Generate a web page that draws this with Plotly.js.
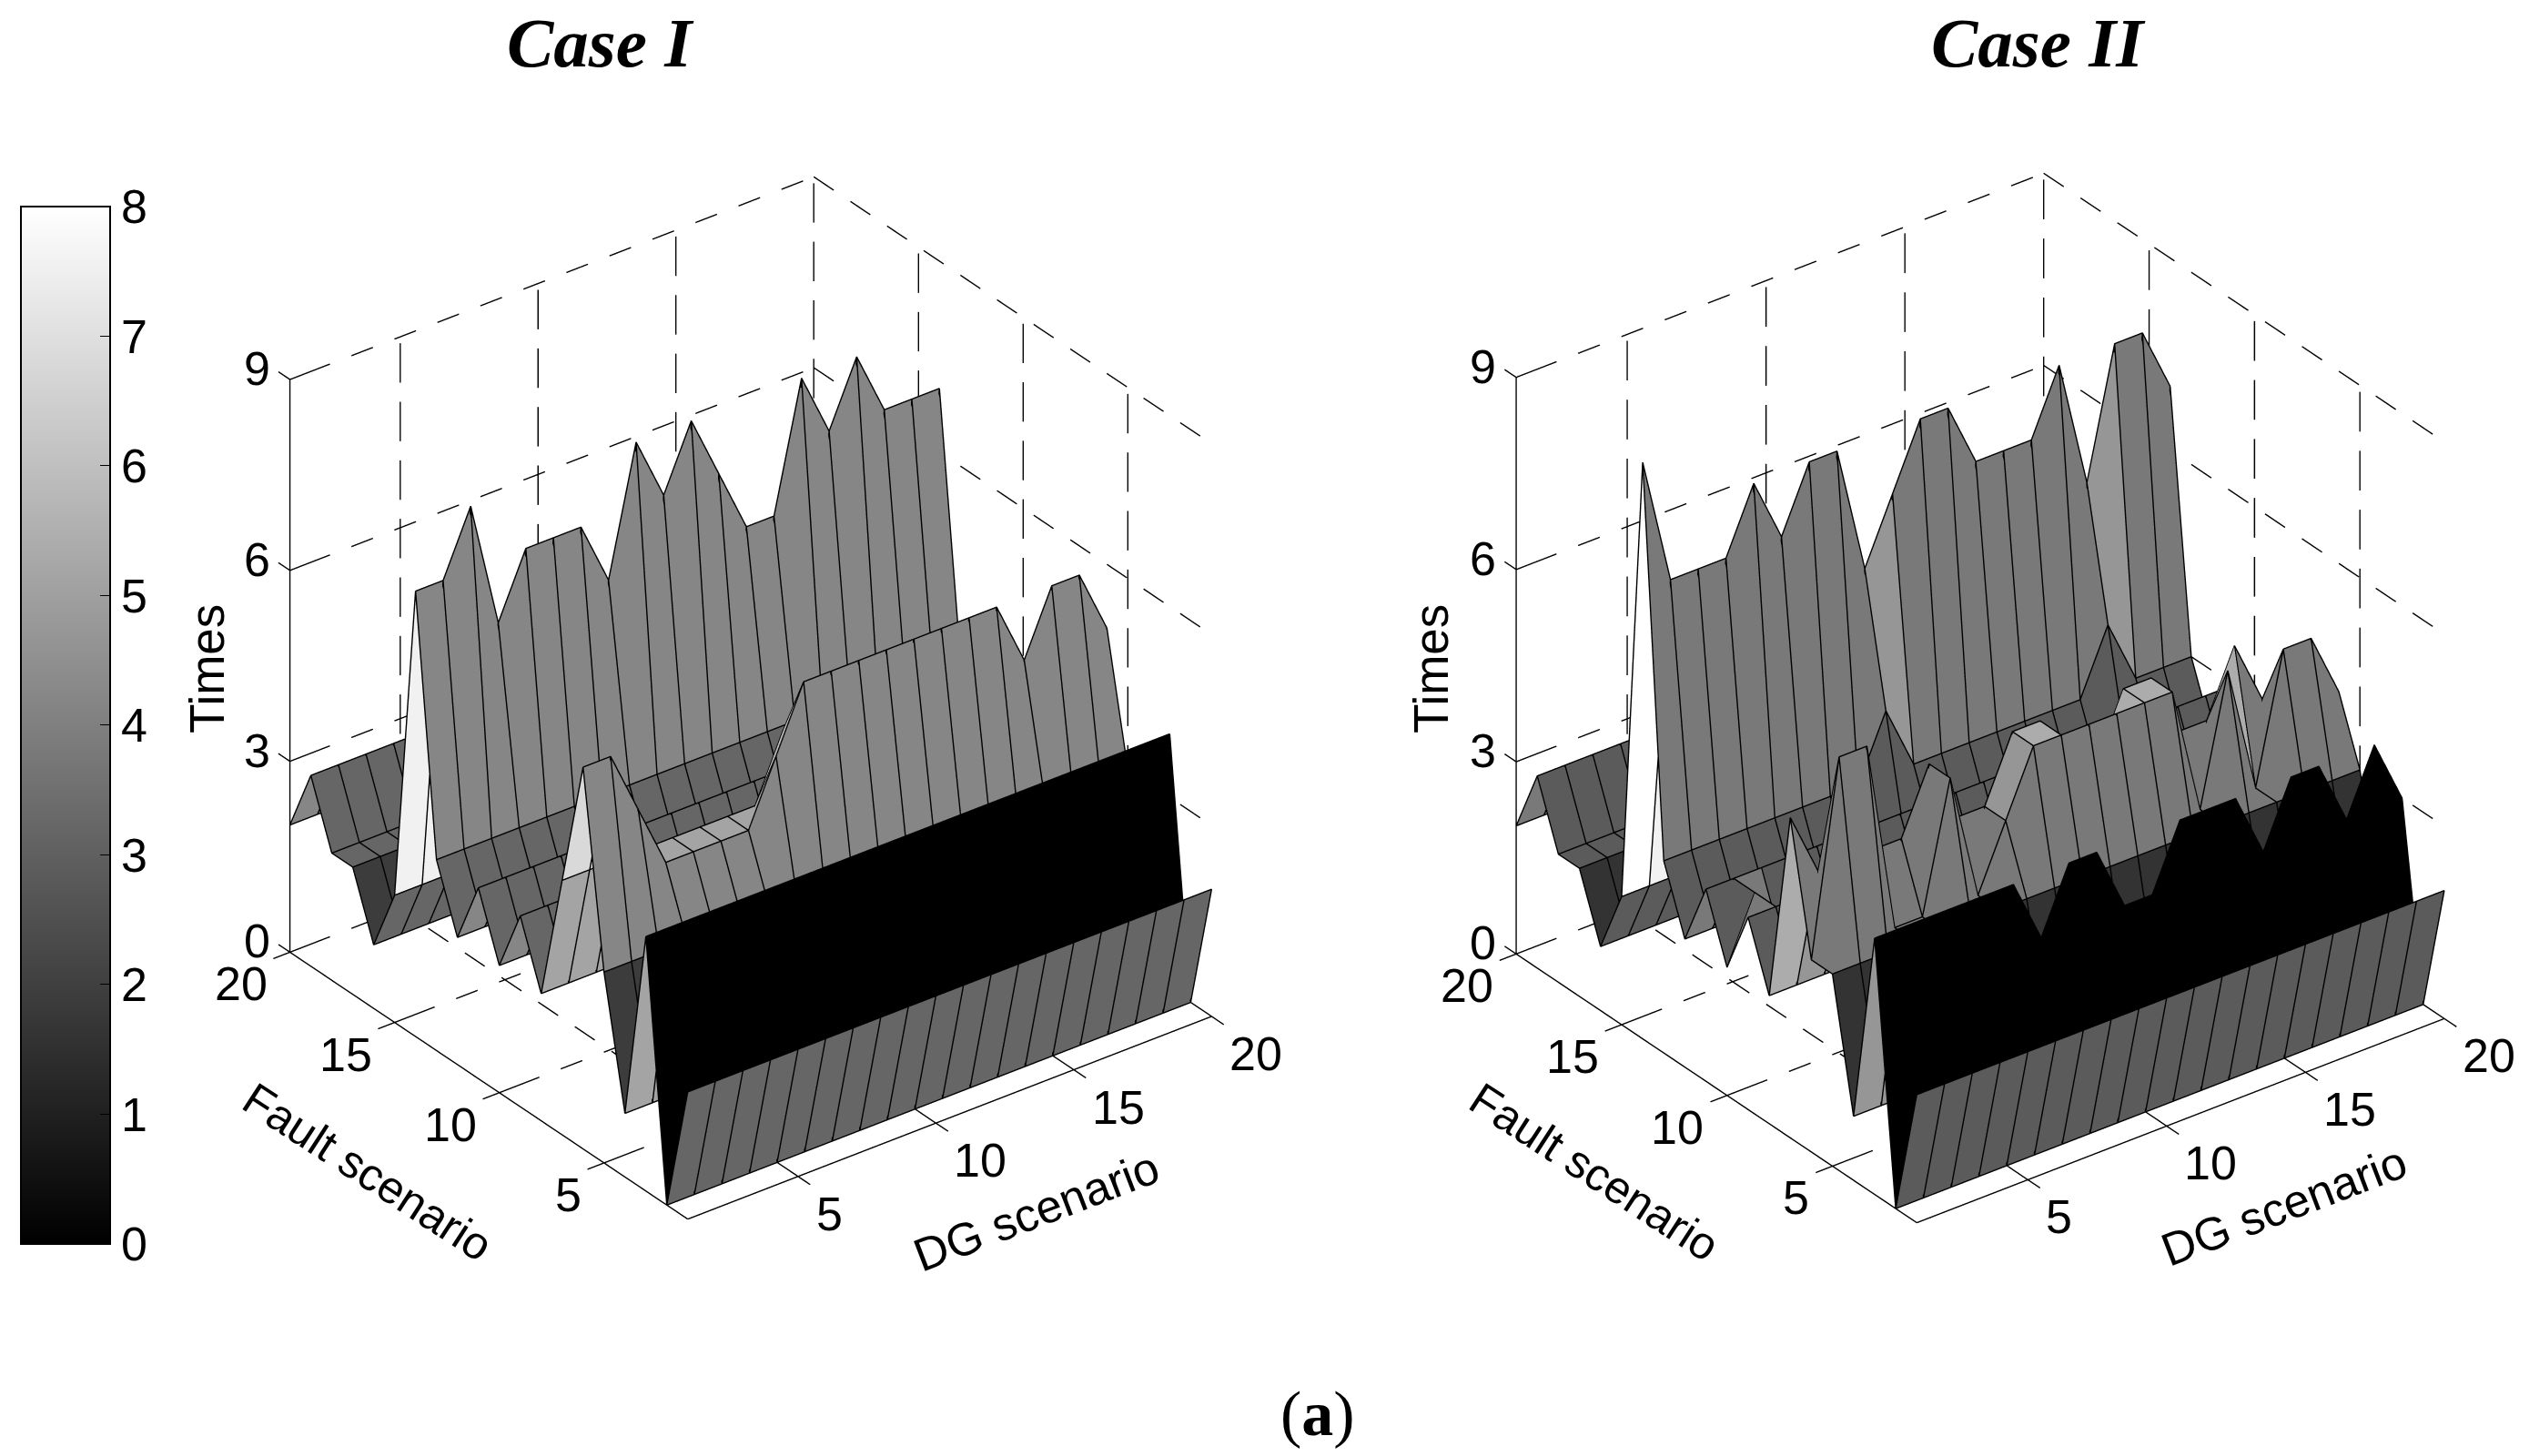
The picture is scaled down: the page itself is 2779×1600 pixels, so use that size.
<!DOCTYPE html>
<html><head><meta charset="utf-8">
<script src="https://cdn.plot.ly/plotly-3.0.1.min.js"></script>
<style>html,body{margin:0;padding:0;background:#fff}#plot{width:2779px;height:1600px}</style>
</head><body><div id="plot"></div>
<script>
const dgScenario = [1,2,3,4,5,6,7,8,9,10,11,12,13,14,15,16,17,18,19,20];
const faultScenario = [1,2,3,4,5,6,7,8,9,10,11,12,13,14,15,16,17,18,19,20];
// rows: fault scenario 1..20, columns: DG scenario 1..20
const timesCaseI = [
[2,2,2,2,2,2,2,2,2,2,2,2,2,2,2,2,2,2,2,2],
[0,0,0,0,0,0,0,0,0,0,0,0,0,0,0,0,0,0,0,0],
[4,4,4,4,4,4,4,4,4,4,4,4,4,4,4,4,4,4,4,4],
[1,1,1,1,1,1,1,1,1,1,1,1,1,1,1,1,1,1,1,1],
[3,3,3,3,3,3,3,3,3,3,3,3,3,3,3,3,3,3,3,3],
[6,6,5,4,4,4,4,5,6,6,6,6,6,6,6,6,5,6,6,5],
[4,4,4,4,4,4,4,4,5,4,4,4,4,4,4,4,4,4,4,4],
[2,2,2,2,2,2,2,2,2,2,2,2,2,2,2,2,2,2,2,2],
[3,3,3,3,3,3,3,3,3,3,3,3,3,3,3,3,3,3,3,3],
[2,2,2,2,2,2,2,2,2,2,2,2,2,2,2,2,2,2,2,2],
[3,3,3,3,3,3,3,3,3,3,3,3,3,3,3,3,3,3,3,3],
[2,2,2,2,2,2,2,2,2,2,2,2,2,2,2,2,2,2,2,2],
[3,3,3,3,3,3,3,3,3,3,3,3,3,3,3,3,3,3,3,3],
[7,7,8,6,7,7,7,6,8,7,8,7,6,6,8,7,8,7,7,7],
[2,2,2,2,2,2,2,2,2,2,2,2,2,2,2,2,2,2,2,2],
[1,1,1,1,1,1,1,1,1,1,1,1,1,1,1,1,1,1,1,1],
[2,2,2,2,2,2,2,2,2,2,2,2,2,2,2,2,2,2,2,2],
[2,2,2,2,2,2,2,2,2,2,2,2,2,2,2,2,2,2,2,2],
[3,3,3,3,3,3,3,3,3,3,3,3,3,3,3,3,3,3,3,3],
[2,2,2,2,2,2,2,2,2,2,2,2,2,2,2,2,2,2,2,2]];
const timesCaseII = [
[2,2,2,2,2,2,2,2,2,2,2,2,2,2,2,2,2,2,2,2],
[0,0,0,0,0,0,0,0,0,0,0,0,0,0,0,0,0,0,0,0],
[4,4,4,4,4,4,3,4,4,3,3,4,4,4,3,4,4,3,4,3],
[1,1,1,1,1,1,1,1,1,1,1,1,1,1,1,1,1,1,1,1],
[3,3,3,3,3,3,3,3,3,3,3,3,3,3,3,3,3,3,3,3],
[3,6,6,3,3,5,3,4,5,5,5,5,5,5,3,5,3,5,5,4],
[5,4,4,4,4,5,4,4,5,5,4,4,5,5,4,4,5,4,4,4],
[2,2,2,2,2,2,2,2,2,2,2,2,2,2,2,2,2,2,2,2],
[3,3,3,3,3,3,3,3,3,3,3,3,3,3,3,3,3,3,3,3],
[2,3,2,2,2,2,2,2,2,2,2,2,2,2,2,2,2,2,2,2],
[3,3,3,3,3,3,3,3,3,3,3,3,3,3,3,3,3,3,3,3],
[2,2,2,2,2,2,2,2,2,2,2,2,2,2,2,2,2,2,2,2],
[3,3,3,3,3,3,3,3,4,3,3,3,3,3,3,3,4,3,3,3],
[9,7,7,7,8,7,8,8,6,7,8,8,7,7,7,8,6,8,8,7],
[2,2,2,2,2,2,2,2,2,2,2,2,2,2,2,2,2,2,2,2],
[1,1,1,1,1,1,1,1,1,1,1,1,1,1,1,1,1,1,1,1],
[2,2,2,2,2,2,2,2,2,2,2,2,2,2,2,2,2,2,2,2],
[2,2,2,2,2,2,2,2,2,2,2,2,2,2,2,2,2,2,2,2],
[3,3,3,3,3,3,3,3,3,3,3,3,3,3,3,3,3,3,3,3],
[2,2,2,2,2,2,2,2,2,2,2,2,2,2,2,2,2,2,2,2]];
// colour-bar position of a face, by the height of its first corner (index = times)
const shadeCaseI  = [0,1.9,3.2,4.2,5.15,6.0,6.8,7.55,8,8];
const shadeCaseII = [0,1.6,2.85,3.8,4.7,5.4,6.5,7.55,8,8];
const timesTicks = [0,3,6,9];
const scenarioTicks = [5,10,15,20];
const barTicks = [0,1,2,3,4,5,6,7,8];

const W=2779,H=1600, TICK=52, LW=2.8;
const BAR={l:22.7,r:120.7,t:226.8,b:1366.8};
// offset along the view direction so that edges stay in front of their faces
const LIFT=[-0.037,-0.048,0.016];
function surface(Z,shade,scene,showBar){
  const n=Z.length,m=Z[0].length,x=[],y=[],z=[],I=[],J=[],K=[],C=[];
  for(let r=0;r<n;r++)for(let c=0;c<m;c++){x.push(dgScenario[c]);y.push(faultScenario[r]);z.push(Z[r][c]);}
  for(let r=0;r<n-1;r++)for(let c=0;c<m-1;c++){
    const a=r*m+c,b=a+1,d=a+m,e=d+1,v=shade[Z[r][c]];
    I.push(a,a);J.push(b,e);K.push(e,d);C.push(v,v);
  }
  const t={type:'mesh3d',scene,x,y,z,i:I,j:J,k:K,intensity:C,intensitymode:'cell',
    colorscale:[[0,'#000'],[1,'#fff']],cmin:0,cmax:8,flatshading:true,hoverinfo:'skip',
    lighting:{ambient:1,diffuse:0,specular:0,roughness:1,fresnel:0},showscale:!!showBar};
  if(showBar)t.colorbar={x:BAR.l/W,xanchor:'left',xpad:0,ypad:0,y:1-BAR.b/H,yanchor:'bottom',
    len:BAR.b-BAR.t,lenmode:'pixels',thickness:BAR.r-BAR.l,thicknessmode:'pixels',tickvals:barTicks,ticks:'inside',ticklen:12,
    tickcolor:'#000',tickwidth:1,outlinecolor:'#000',outlinewidth:2,
    tickfont:{family:'Liberation Sans, Arial, sans-serif',size:TICK,color:'#000'}};
  return t;
}
function edges(Z,scene){
  const x=[],y=[],z=[],n=Z.length,m=Z[0].length;
  const put=(r,c)=>{x.push(dgScenario[c]+LIFT[0]);y.push(faultScenario[r]+LIFT[1]);z.push(Z[r][c]+LIFT[2]);};
  const brk=()=>{x.push(null);y.push(null);z.push(null);};
  for(let r=0;r<n;r++){for(let c=0;c<m;c++)put(r,c);brk();}
  for(let c=0;c<m;c++){for(let r=0;r<n;r++)put(r,c);brk();}
  return {type:'scatter3d',mode:'lines',scene,x,y,z,line:{color:'#000',width:LW},hoverinfo:'skip',showlegend:false};
}
function solidLines(list,scene){
  const x=[],y=[],z=[];
  list.forEach(s=>{x.push(s[0],s[3],null);y.push(s[1],s[4],null);z.push(s[2],s[5],null);});
  return {type:'scatter3d',mode:'lines',scene,x,y,z,line:{color:'#000',width:LW},hoverinfo:'skip',showlegend:false};
}
// a dashed grid line, as short pieces in axis units: on/off lengths per direction
function dashedLines(list,scene){
  const x=[],y=[],z=[];
  list.forEach(s=>{
    const dx=s[3]-s[0],dy=s[4]-s[1],dz=s[5]-s[2];
    const on=dz?0.62:(dx?0.78:0.95), off=dz?0.3:(dx?0.78:0.8);
    const len=Math.abs(dx+dy+dz);
    for(let u=0;u<len;u+=on+off){
      const a=u/len,b=Math.min(1,(u+on)/len);
      x.push(s[0]+dx*a,s[0]+dx*b,null);y.push(s[1]+dy*a,s[1]+dy*b,null);z.push(s[2]+dz*a,s[2]+dz*b,null);
    }
  });
  return {type:'scatter3d',mode:'lines',scene,x,y,z,line:{color:'#000',width:LW},hoverinfo:'skip',showlegend:false};
}
function frame(scene){
  const solid=[[1,1,0,20,1,0],[1,1,0,1,20,0],[1,20,0,1,20,9]], dashed=[];
  scenarioTicks.forEach(k=>{
    solid.push([k,0.42,0,k,1.96,0]);solid.push([0.4,k,0,1.67,k,0]);
    dashed.push([k,1.96,0,k,20,0]);dashed.push([1.67,k,0,20,k,0]);
    dashed.push([k,20,0,k,20,9]);dashed.push([20,k,0,20,k,9]);
  });
  timesTicks.forEach(v=>{
    solid.push([1,20.55,v,1,20,v]);solid.push([1,20,v,1.67,20,v]);
    dashed.push([1.67,20,v,20,20,v]);dashed.push([20,20,v,20,1,v]);
  });
  return [solidLines(solid,scene),dashedLines(dashed,scene)];
}
const tf={family:'Liberation Sans, Arial, sans-serif',size:TICK,color:'#000'};
function sceneAnn(){
  const a=[];
  timesTicks.forEach(v=>a.push({x:1,y:20,z:v,text:String(v),showarrow:false,xanchor:'right',yanchor:'middle',xshift:-20,yshift:12,font:tf}));
  scenarioTicks.forEach(k=>{
    a.push({x:1,y:k,z:0,text:String(k),showarrow:false,xanchor:'right',yanchor:'middle',xshift:-23,yshift:-35,font:tf});
    a.push({x:k,y:1,z:0,text:String(k),showarrow:false,xanchor:'left',yanchor:'middle',xshift:18,yshift:-41,font:tf});
  });
  return a;
}
const EYE=[-0.5225,-0.688,0.5116], R=1.945;
function sceneLayout(xc,hh){
  const hw=560,yc=767;
  return {domain:{x:[(xc-hw)/W,(xc+hw)/W],y:[1-(yc+hh)/H,1-(yc-hh)/H]},
    xaxis:{visible:false,range:[0,21]},yaxis:{visible:false,range:[0,21]},zaxis:{visible:false,range:[-0.5,9.5]},
    aspectmode:'manual',aspectratio:{x:1.105,y:1.105,z:1.124},
    camera:{eye:{x:EYE[0]*R,y:EYE[1]*R,z:EYE[2]*R},up:{x:0,y:0,z:1},center:{x:0,y:0,z:0},projection:{type:'orthographic'}},
    annotations:sceneAnn(),bgcolor:'rgba(0,0,0,0)'};
}
const data=[surface(timesCaseI,shadeCaseI,'scene',true),edges(timesCaseI,'scene'),...frame('scene'),
  surface(timesCaseII,shadeCaseII,'scene2',false),edges(timesCaseII,'scene2'),...frame('scene2')];
function ann(px,py,text,size,family,angle){return {xref:'paper',yref:'paper',x:px/W,y:1-py/H,text,showarrow:false,xanchor:'center',yanchor:'middle',textangle:angle||0,font:{family,size,color:'#000'}};}
const serif='Liberation Serif, Times New Roman, serif',sans='Liberation Sans, Arial, sans-serif';
const barTickShapes=barTicks.map(v=>{const y=BAR.b-(BAR.b-BAR.t)*v/8;return {type:'line',xref:'paper',yref:'paper',x0:BAR.l/W,x1:(BAR.l+12)/W,y0:1-y/H,y1:1-y/H,line:{color:'#000',width:1}};});
const layout={width:W,height:H,margin:{l:0,r:0,t:0,b:0},paper_bgcolor:'#fff',showlegend:false,
  scene:sceneLayout(825,723),scene2:sceneLayout(2175.6,728),shapes:barTickShapes,
  annotations:[
    ann(660,47,'<b><i>Case I</i></b>',77,serif),ann(2240,47,'<b><i>Case II</i></b>',77,serif),
    ann(1448,1553,'(<b>a</b>)',70,serif),
    ann(227,735,'Times',53,sans,-90),ann(1572,735,'Times',53,sans,-90),
    ann(404,1288,'Fault scenario',50,sans,33),ann(1752,1288,'Fault scenario',50,sans,33),
    ann(1138,1331,'DG scenario',51,sans,-21),ann(2509,1325,'DG scenario',51,sans,-21)
  ]};
Plotly.newPlot('plot',data,layout,{displayModeBar:false});
</script></body></html>
